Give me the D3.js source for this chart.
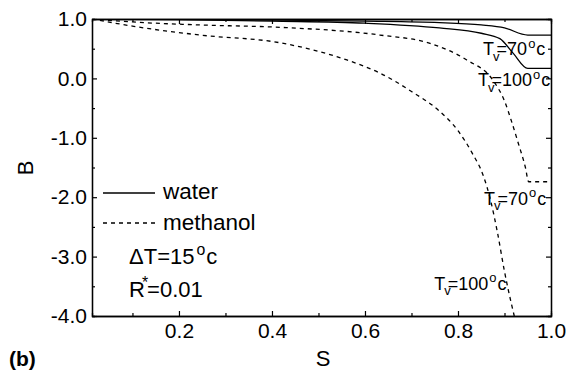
<!DOCTYPE html>
<html>
<head>
<meta charset="utf-8">
<script src="https://cdn.jsdelivr.net/npm/d3@7"></script>
<style>
  body { margin: 0; background: #fff; }
  svg { display: block; }
  text { font-family: Arial, "Liberation Sans", sans-serif; fill: #000; }
</style>
</head>
<body>
<div id="chart"></div>
<script>
// tick values
const xTicks = [0.2, 0.4, 0.6, 0.8, 1.0];
const xMinor = [0.1, 0.3, 0.5, 0.7, 0.9];
const yTicks = [-4, -3, -2, -1, 0, 1];
const yMinor = [-3.5, -2.5, -1.5, -0.5, 0.5];

// water, Tv = 70 C
const waterS70 = [0.013, 0.2, 0.4, 0.6, 0.76, 0.85, 0.90, 0.95, 1.0];
const waterB70 = [1.0, 0.995, 0.983, 0.965, 0.94, 0.90, 0.85, 0.73, 0.73];
// water, Tv = 100 C
const waterS100 = [0.013, 0.2, 0.4, 0.6, 0.76, 0.85, 0.89, 0.918, 0.95, 1.0];
const waterB100 = [1.0, 0.99, 0.965, 0.93, 0.85, 0.76, 0.67, 0.43, 0.17, 0.17];
// methanol, Tv = 70 C
const methS70 = [0.013, 0.1, 0.245, 0.417, 0.632, 0.74, 0.819, 0.875, 0.90, 0.915, 0.93, 0.945, 0.952, 1.0];
const methB70 = [1.0, 0.95, 0.90, 0.86, 0.73, 0.59, 0.31, -0.03, -0.38, -0.72, -1.1, -1.5, -1.74, -1.74];
// methanol, Tv = 100 C
const methS100 = [0.013, 0.1, 0.245, 0.417, 0.488, 0.561, 0.632, 0.70, 0.76, 0.80, 0.83, 0.855, 0.87, 0.885, 0.90, 0.915, 0.921];
const methB100 = [1.0, 0.88, 0.73, 0.60, 0.48, 0.31, 0.09, -0.22, -0.55, -0.88, -1.25, -1.65, -2.05, -2.6, -3.25, -3.8, -4.0];

const width = 577, height = 378;
const pLeft = 92, pRight = 551, pTop = 19, pBottom = 316;

const svg = d3.select('#chart').append('svg')
    .attr('width', width)
    .attr('height', height);

const x = d3.scaleLinear().domain([0.013, 1.0]).range([pLeft, pRight]);
const y = d3.scaleLinear().domain([-4, 1]).range([pBottom, pTop]);

const fmt = d => d.toFixed(1);

// main axes (ticks point inwards)
svg.append('g').attr('transform', 'translate(0,' + pBottom + ')')
    .call(d3.axisBottom(x).tickValues(xTicks).tickSize(-5).tickSizeOuter(0).tickPadding(7).tickFormat(fmt));
svg.append('g').attr('transform', 'translate(' + pLeft + ',0)')
    .call(d3.axisLeft(y).tickValues(yTicks).tickSize(-5).tickSizeOuter(0).tickPadding(5).tickFormat(fmt));
svg.append('g').attr('transform', 'translate(0,' + pTop + ')')
    .call(d3.axisTop(x).tickValues(xTicks).tickSize(-5).tickSizeOuter(0).tickFormat(''));
svg.append('g').attr('transform', 'translate(' + pRight + ',0)')
    .call(d3.axisRight(y).tickValues(yTicks).tickSize(-5).tickSizeOuter(0).tickFormat(''));

// minor ticks
svg.append('g').attr('transform', 'translate(0,' + pBottom + ')')
    .call(d3.axisBottom(x).tickValues(xMinor).tickSize(-3).tickFormat(''));
svg.append('g').attr('transform', 'translate(0,' + pTop + ')')
    .call(d3.axisTop(x).tickValues(xMinor).tickSize(-3).tickFormat(''));
svg.append('g').attr('transform', 'translate(' + pLeft + ',0)')
    .call(d3.axisLeft(y).tickValues(yMinor).tickSize(-3).tickFormat(''));
svg.append('g').attr('transform', 'translate(' + pRight + ',0)')
    .call(d3.axisRight(y).tickValues(yMinor).tickSize(-3).tickFormat(''));

svg.selectAll('.tick line').attr('stroke', '#000').attr('stroke-width', 1.2);
svg.selectAll('.domain').attr('stroke', '#000').attr('stroke-width', 1.3);
svg.selectAll('.tick text').attr('font-size', 21).attr('fill', '#000')
    .attr('font-family', 'Arial, "Liberation Sans", sans-serif');

// curves
svg.append('clipPath').attr('id', 'clip').append('rect')
    .attr('x', pLeft).attr('y', pTop).attr('width', pRight - pLeft).attr('height', pBottom - pTop);

const line = d3.line()
    .x(d => x(d[0]))
    .y(d => y(d[1]))
    .curve(d3.curveMonotoneX);

const series = [
  { s: waterS70, b: waterB70, dash: null },
  { s: waterS100, b: waterB100, dash: null },
  { s: methS70, b: methB70, dash: '4,4' },
  { s: methS100, b: methB100, dash: '4,4' }
];

svg.append('g').attr('clip-path', 'url(#clip)')
  .selectAll('path')
  .data(series)
  .enter().append('path')
    .attr('d', d => line(d.s.map((v, i) => [v, d.b[i]])))
    .attr('fill', 'none')
    .attr('stroke', '#000')
    .attr('stroke-width', 1.3)
    .attr('stroke-dasharray', d => d.dash);

// helper for labels like T_v=70^oc
function label(px, py, size, parts) {
  const t = svg.append('text').attr('x', px).attr('y', py).attr('font-size', size);
  let shift = 0;
  parts.forEach(p => {
    let target = 0, fs = size;
    if (p[1] === 'sub') { target = size * 0.3; fs = size * 0.72; }
    if (p[1] === 'sup') { target = -size * 0.42; fs = size * 0.72; }
    const ts = t.append('tspan').text(p[0]).attr('dy', target - shift).attr('font-size', fs);
    if (p[2]) ts.attr('dx', p[2]);
    shift = target;
  });
  return t;
}

const tv = (val) => [['T', ''], ['v', 'sub', -1], ['=' + val, '', -3], ['o', 'sup', 1], ['c', '', 1]];

label(x(0.854), y(0.39), 18, tv('70'));
label(x(0.843), y(-0.13), 18, tv('100'));
label(x(0.856), y(-2.13), 18, tv('70'));
label(x(0.749), y(-3.56), 18, tv('100'));

// legend
const lg = svg.append('g');
lg.append('line').attr('x1', 103).attr('x2', 155).attr('y1', 193).attr('y2', 193)
    .attr('stroke', '#000').attr('stroke-width', 1.3);
lg.append('text').attr('x', 163).attr('y', 199).attr('font-size', 22.5).text('water');
lg.append('line').attr('x1', 103).attr('x2', 155).attr('y1', 223).attr('y2', 223)
    .attr('stroke', '#000').attr('stroke-width', 1.3).attr('stroke-dasharray', '4,4');
lg.append('text').attr('x', 163).attr('y', 230).attr('font-size', 22.5).text('methanol');

label(129, 264, 22, [['\u0394T=15', ''], ['o', 'sup', 2], ['c', '', 1]]);
label(129, 297, 22, [['R', ''], ['*', 'sup', -3], ['=0.01', '', -1]]);

// axis titles
svg.append('text').attr('x', 323).attr('y', 366).attr('text-anchor', 'middle')
    .attr('font-size', 22).text('S');
svg.append('text').attr('transform', 'translate(33,168) rotate(-90)')
    .attr('text-anchor', 'middle').attr('font-size', 22).text('B');
svg.append('text').attr('x', 9).attr('y', 366).attr('font-size', 21)
    .attr('font-weight', 'bold').text('(b)');
</script>
</body>
</html>
